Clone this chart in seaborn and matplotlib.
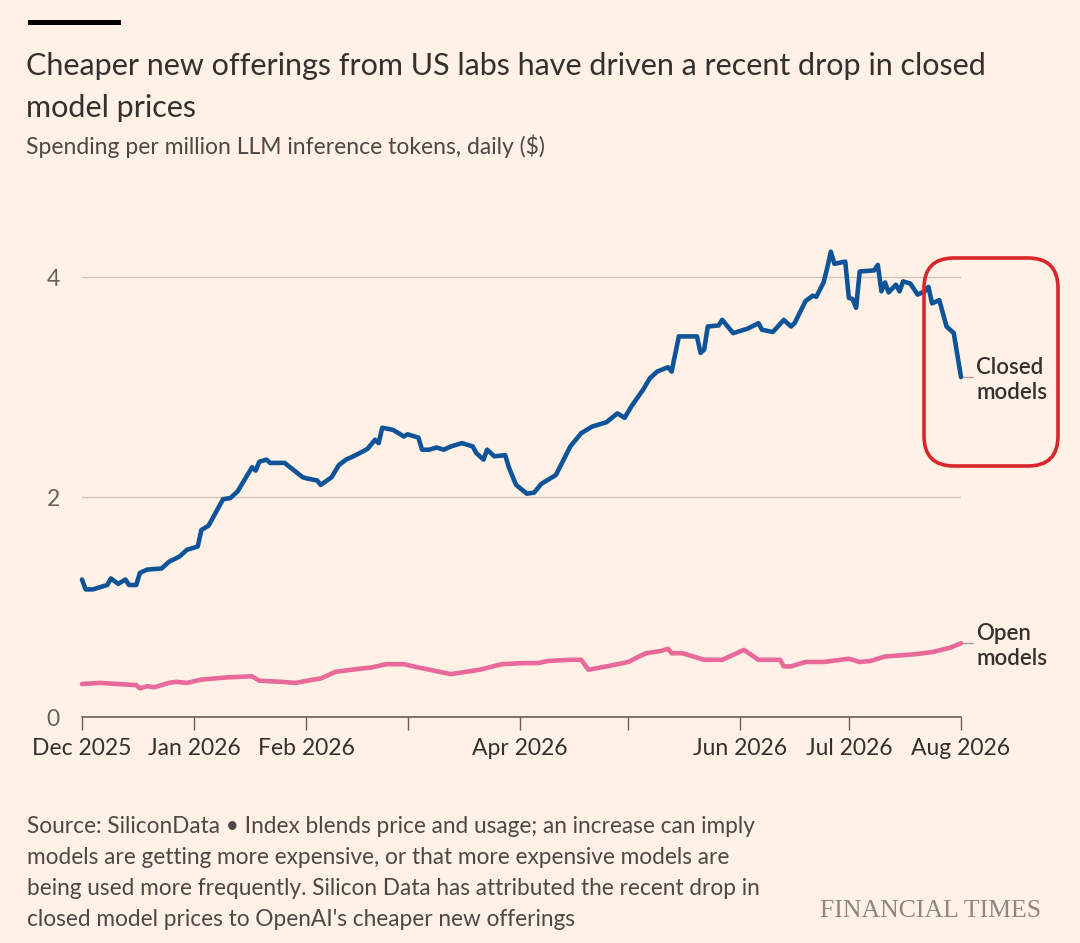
import pandas as pd
import seaborn as sns
import matplotlib.pyplot as plt
from matplotlib.patches import Rectangle, FancyBboxPatch
from matplotlib.lines import Line2D

# days since 1 Dec 2025
closed_days = [0, 1, 3, 7, 8, 10, 12, 13, 15, 16, 18, 22, 24, 27, 29, 32, 33, 35, 39, 41,
               43, 47, 48, 49, 51, 52, 56, 61, 62, 65, 66, 69, 71, 73, 75, 78, 79, 81, 82, 83,
               86, 89, 90, 93, 94, 96, 98, 100, 102, 105, 108, 109, 111, 112, 114, 117, 118, 120, 123, 125,
               127, 131, 135, 138, 141, 145, 148, 150, 152, 155, 157, 159, 162, 163, 165, 170, 171, 172, 173, 176,
               177, 180, 184, 187, 188, 191, 194, 196, 197, 200, 202, 203, 205, 206, 207, 208, 211, 212, 213, 214,
               215, 219, 220, 221, 222, 223, 225, 226, 227, 229, 231, 233, 234, 235, 237, 239, 241, 243]
closed_values = [1.25, 1.16, 1.16, 1.20, 1.26, 1.21, 1.25, 1.20, 1.20, 1.31, 1.34, 1.35, 1.41, 1.46, 1.52, 1.55, 1.70, 1.74, 1.98, 1.99,
                 2.05, 2.27, 2.24, 2.32, 2.34, 2.31, 2.31, 2.18, 2.17, 2.15, 2.11, 2.18, 2.29, 2.34, 2.37, 2.42, 2.44, 2.52, 2.49, 2.63,
                 2.61, 2.55, 2.57, 2.54, 2.43, 2.43, 2.45, 2.43, 2.46, 2.49, 2.46, 2.40, 2.34, 2.43, 2.37, 2.38, 2.27, 2.11, 2.03, 2.04,
                 2.12, 2.20, 2.46, 2.58, 2.64, 2.68, 2.76, 2.72, 2.83, 2.97, 3.08, 3.14, 3.18, 3.14, 3.46, 3.46, 3.31, 3.34, 3.55, 3.56,
                 3.61, 3.49, 3.53, 3.58, 3.52, 3.50, 3.61, 3.55, 3.58, 3.78, 3.83, 3.82, 3.95, 4.08, 4.23, 4.12, 4.14, 3.81, 3.80, 3.72,
                 4.05, 4.06, 4.11, 3.87, 3.95, 3.86, 3.93, 3.87, 3.96, 3.94, 3.84, 3.87, 3.91, 3.76, 3.79, 3.55, 3.49, 3.09]

open_days = [0, 5, 10, 15, 16, 18, 20, 24, 26, 29, 33, 40, 47, 49, 55, 59, 64, 66, 70, 77,
             80, 84, 89, 93, 96, 102, 106, 110, 116, 122, 126, 129, 135, 138, 140, 145, 151, 154, 156, 160,
             162, 163, 166, 172, 177, 183, 187, 193, 194, 196, 200, 205, 212, 215, 218, 222, 230, 235, 240, 243]
open_values = [0.30, 0.31, 0.30, 0.29, 0.26, 0.28, 0.27, 0.31, 0.32, 0.31, 0.34, 0.36, 0.37, 0.33, 0.32, 0.31, 0.34, 0.35, 0.41, 0.44,
               0.45, 0.48, 0.48, 0.45, 0.43, 0.39, 0.41, 0.43, 0.48, 0.49, 0.49, 0.51, 0.52, 0.52, 0.43, 0.46, 0.50, 0.55, 0.58, 0.60,
               0.62, 0.58, 0.58, 0.52, 0.52, 0.61, 0.52, 0.52, 0.46, 0.46, 0.50, 0.50, 0.53, 0.50, 0.51, 0.55, 0.57, 0.59, 0.63, 0.67]

month_ticks = ["2025-12-01", "2026-01-01", "2026-02-01", "2026-03-01", "2026-04-01",
               "2026-05-01", "2026-06-01", "2026-07-01", "2026-08-01"]
month_labels = ["Dec 2025", "Jan 2026", "Feb 2026", "", "Apr 2026", "", "Jun 2026", "Jul 2026", "Aug 2026"]
y_ticks = [0, 2, 4]

start = pd.Timestamp("2025-12-01")
closed_df = pd.DataFrame({"date": start + pd.to_timedelta(closed_days, unit="D"), "value": closed_values})
open_df = pd.DataFrame({"date": start + pd.to_timedelta(open_days, unit="D"), "value": open_values})

BG = "#FFF1E5"
TXT = "#33302E"
AXC = "#66605C"
BLUE = "#0F5499"
PINK = "#E8699A"

sns.set_style("white")
plt.rcParams["font.family"] = ["Lato", "DejaVu Sans"]

W, H = 1080, 943
fig = plt.figure(figsize=(W / 100, H / 100), dpi=100, facecolor=BG)


def fx(x):
    return x / W


def fy(y):
    return 1 - y / H


ax = fig.add_axes([fx(82), fy(717), fx(961 - 82), (717 - 244) / H])
ax.set_facecolor(BG)

sns.lineplot(data=closed_df, x="date", y="value", ax=ax, color=BLUE, linewidth=3.3, clip_on=False)
sns.lineplot(data=open_df, x="date", y="value", ax=ax, color=PINK, linewidth=3.3, clip_on=False)

ax.set_xlim(pd.Timestamp(month_ticks[0]), pd.Timestamp(month_ticks[-1]))
ax.set_ylim(0, 4.3)
ax.set_xlabel("")
ax.set_ylabel("")

ax.set_xticks(pd.to_datetime(month_ticks))
ax.set_xticklabels(month_labels)
ax.set_yticks(y_ticks)
ax.set_yticklabels([str(v) for v in y_ticks])
ax.tick_params(axis="x", length=9, width=1, color=AXC, labelsize=16.5, labelcolor=TXT, pad=6, bottom=True)
ax.tick_params(axis="y", length=0, labelsize=16.5, labelcolor=AXC, pad=16)

ax.yaxis.grid(True, color="#CEC6BE", linewidth=1)
ax.xaxis.grid(False)
for s in ["top", "right", "left"]:
    ax.spines[s].set_visible(False)
ax.spines["bottom"].set_color(AXC)
ax.spines["bottom"].set_linewidth(1.2)

# line labels with small leaders
fig.add_artist(Line2D([fx(963), fx(973)], [fy(377), fy(377)], color="#A8A29D", lw=1))
fig.text(fx(976), fy(380), "Closed\nmodels", ha="left", va="center", fontsize=16, fontweight="semibold",
         color=TXT, linespacing=1.2)
fig.add_artist(Line2D([fx(963), fx(973)], [fy(643), fy(643)], color="#A8A29D", lw=1))
fig.text(fx(976), fy(646), "Open\nmodels", ha="left", va="center", fontsize=16, fontweight="semibold",
         color=TXT, linespacing=1.2)

# header
fig.add_artist(Rectangle((fx(28), fy(25)), fx(93), 5 / H, transform=fig.transFigure,
                         facecolor="black", edgecolor="none"))
fig.text(fx(26), fy(52), "Cheaper new offerings from US labs have driven a recent drop in closed\nmodel prices",
         ha="left", va="top", fontsize=22, color=TXT, linespacing=1.62)
fig.text(fx(26), fy(134), "Spending per million LLM inference tokens, daily ($)",
         ha="left", va="top", fontsize=16.5, color="#4D4845")

# footer
fig.text(fx(27), fy(816),
         "Source: SiliconData \u2022 Index blends price and usage; an increase can imply\n"
         "models are getting more expensive, or that more expensive models are\n"
         "being used more frequently. Silicon Data has attributed the recent drop in\n"
         "closed model prices to OpenAI's cheaper new offerings",
         ha="left", va="top", fontsize=16.3, color="#4D4845", linespacing=1.58)
fig.text(fx(1041), fy(911), "FINANCIAL TIMES", ha="right", va="center", fontsize=18.5,
         color="#8C8782", family=["Liberation Serif", "DejaVu Serif"])

# red highlight box
fig.add_artist(FancyBboxPatch((924 / 100, (H - 466) / 100), 134 / 100, 208 / 100,
                              boxstyle="round,pad=0,rounding_size=0.3",
                              transform=fig.dpi_scale_trans, facecolor="none",
                              edgecolor="#D9252B", linewidth=2.6))

fig.savefig("out.png", dpi=100, facecolor=BG)
